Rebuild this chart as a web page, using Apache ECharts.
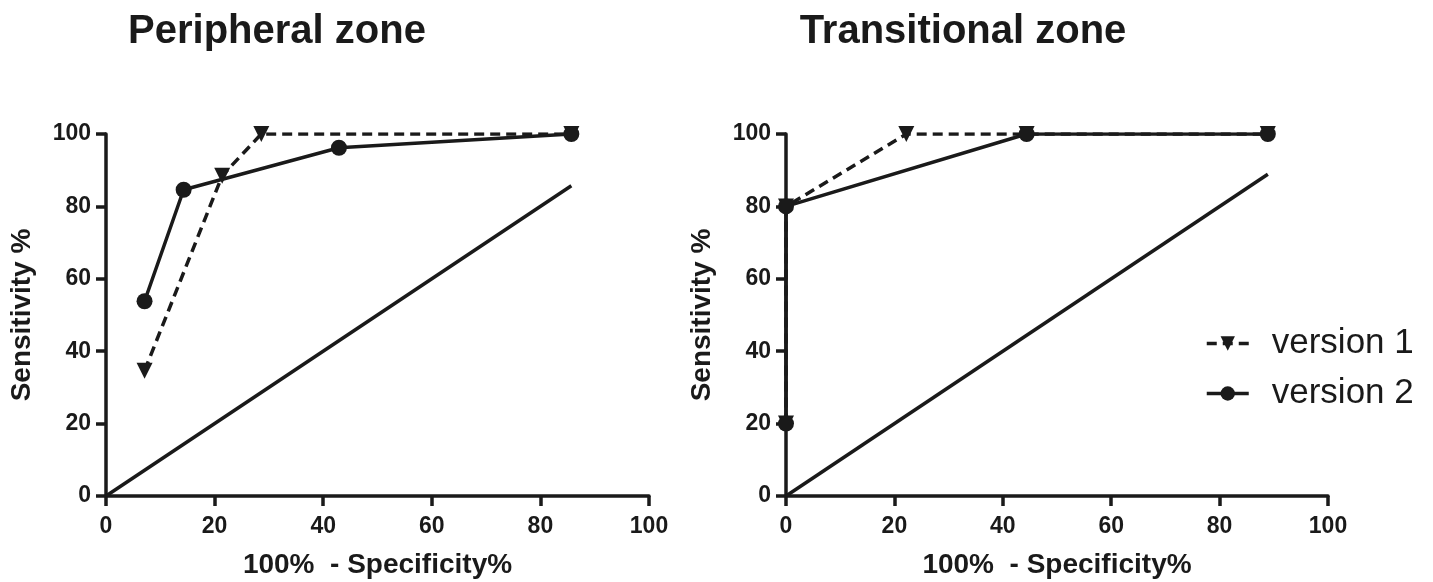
<!DOCTYPE html>
<html>
<head>
<meta charset="utf-8">
<script src="https://cdn.jsdelivr.net/npm/echarts@6/dist/echarts.min.js"></script>
<style>
  html, body { margin: 0; padding: 0; background: #fff; }
  #chart { width: 1433px; height: 582px; }
</style>
</head>
<body>
<div id="chart"></div>
<script>
// peripheral zone (100% - specificity, sensitivity)
const pzFpr1 = [7.1, 21.4, 28.6, 85.7];
const pzSens1 = [34.6, 88.5, 100, 100];
const pzFpr2 = [7.1, 14.3, 42.9, 85.7];
const pzSens2 = [53.8, 84.6, 96.2, 100];
const pzDiag = [0, 85.7];

// transitional zone
const tzFpr1 = [0, 0, 22.2, 44.4, 88.9];
const tzSens1 = [20, 80, 100, 100, 100];
const tzFpr2 = [0, 0, 44.4, 88.9];
const tzSens2 = [20, 80, 100, 100];
const tzDiag = [0, 88.9];

const titles = ['Peripheral zone', 'Transitional zone'];
const xName = '100%  - Specificity%';
const yName = 'Sensitivity %';
const seriesNames = ['version 1', 'version 2'];

const INK = '#1a1a1a';
const FONT = '"Liberation Sans", Arial, sans-serif';
const LW = 3.5;

const pairs = (xs, ys) => xs.map((x, i) => [x, ys[i]]);

function axisBase(extra, labelMargin) {
  return Object.assign({
    type: 'value',
    min: 0,
    max: 100,
    interval: 20,
    axisLine: { show: true, lineStyle: { color: INK, width: LW } },
    axisTick: { show: true, length: 10, lineStyle: { color: INK, width: LW } },
    splitLine: { show: false },
    axisLabel: { color: INK, fontSize: 23, fontWeight: 'bold', fontFamily: FONT, margin: labelMargin },
    nameLocation: 'middle',
    nameTextStyle: { color: INK, fontSize: 28, fontWeight: 'bold', fontFamily: FONT }
  }, extra);
}

function v1Series(idx, data) {
  return {
    name: seriesNames[0], type: 'line', xAxisIndex: idx, yAxisIndex: idx,
    data: data, symbol: 'triangle', symbolRotate: 180, symbolSize: 16,
    itemStyle: { color: INK }, z: 3,
    lineStyle: { color: INK, width: LW, type: [10, 6] }
  };
}

function v2Series(idx, data) {
  return {
    name: seriesNames[1], type: 'line', xAxisIndex: idx, yAxisIndex: idx,
    data: data, symbol: 'circle', symbolSize: 16,
    itemStyle: { color: INK }, z: 4,
    lineStyle: { color: INK, width: LW }
  };
}

function diagSeries(idx, ends) {
  return {
    name: 'reference', type: 'line', xAxisIndex: idx, yAxisIndex: idx,
    data: pairs(ends, ends), symbol: 'none', silent: true,
    lineStyle: { color: INK, width: LW }
  };
}

const chart = echarts.init(document.getElementById('chart'), null, { renderer: 'canvas' });

chart.setOption({
  animation: false,
  backgroundColor: '#fff',
  title: [
    { text: titles[0], left: 272, top: 7, textAlign: 'center',
      textStyle: { color: INK, fontSize: 40, fontWeight: 'bold', fontFamily: FONT } },
    { text: titles[1], left: 958, top: 7, textAlign: 'center',
      textStyle: { color: INK, fontSize: 40, fontWeight: 'bold', fontFamily: FONT } }
  ],
  grid: [
    { left: 106, top: 134, width: 543, height: 362, outerBoundsMode: 'none', containLabel: false },
    { left: 786, top: 134, width: 542, height: 362, outerBoundsMode: 'none', containLabel: false }
  ],
  xAxis: [
    axisBase({ gridIndex: 0, name: xName, nameGap: 55 }, 19),
    axisBase({ gridIndex: 1, name: xName, nameGap: 55 }, 19)
  ],
  yAxis: [
    axisBase({ gridIndex: 0, name: yName, nameGap: 70 }, 15),
    axisBase({ gridIndex: 1, name: yName, nameGap: 70 }, 15)
  ],
  legend: {
    data: seriesNames,
    orient: 'vertical',
    left: 1205,
    top: 326,
    itemWidth: 42,
    itemHeight: 18,
    itemGap: 15,
    padding: 0,
    selectedMode: false,
    lineStyle: { width: LW },
    textStyle: { color: INK, fontSize: 35, fontFamily: FONT, padding: [0, 0, 0, 18] }
  },
  series: [
    diagSeries(0, pzDiag),
    v1Series(0, pairs(pzFpr1, pzSens1)),
    v2Series(0, pairs(pzFpr2, pzSens2)),
    diagSeries(1, tzDiag),
    v1Series(1, pairs(tzFpr1, tzSens1)),
    v2Series(1, pairs(tzFpr2, tzSens2))
  ]
});

window.addEventListener('resize', () => chart.resize());
</script>
</body>
</html>
